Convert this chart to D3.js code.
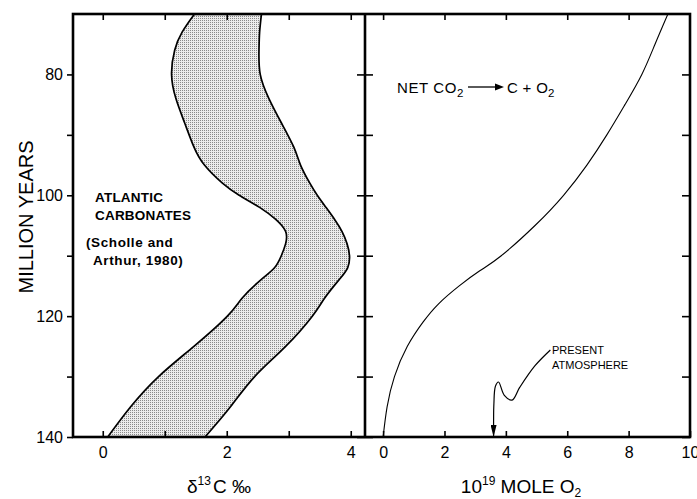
<!DOCTYPE html>
<html>
<head>
<meta charset="utf-8">
<script src="https://cdn.jsdelivr.net/npm/d3@7"></script>
<style>
  body { margin: 0; background: #fff; }
  svg { display: block; }
  text { font-family: "Liberation Sans", Arial, sans-serif; fill: #000; }
  .tick line { stroke: #000; stroke-width: 1.6; }
  .tick text { font-size: 16px; }
</style>
</head>
<body>
<svg id="chart" width="697" height="499"></svg>
<script>
//Ages (million years) for the carbonate band
var bandAge  = [70, 73, 76, 80, 84, 88, 92, 95, 98, 100, 102, 104, 106, 108, 110, 112, 114, 117, 120, 125, 130, 135, 140];
//Lower and upper edge of the delta 13C band (per mil)
var bandLow  = [1.48, 1.28, 1.16, 1.11, 1.18, 1.32, 1.47, 1.64, 1.93, 2.20, 2.53, 2.79, 2.95, 2.95, 2.88, 2.77, 2.55, 2.25, 2.01, 1.47, 0.90, 0.45, 0.08];
var bandHigh = [2.56, 2.53, 2.52, 2.54, 2.68, 2.88, 3.08, 3.19, 3.34, 3.46, 3.60, 3.74, 3.86, 3.94, 3.98, 3.95, 3.81, 3.58, 3.38, 2.95, 2.45, 2.06, 1.65];

//Net O2 produced (10^19 mole)
var o2Age   = [70, 75, 80, 85, 90, 95, 100, 105, 110, 112.5, 115, 118, 121, 125, 130, 135, 140];
var o2Value = [9.28, 8.86, 8.43, 7.88, 7.29, 6.64, 5.88, 4.95, 3.85, 3.15, 2.48, 1.80, 1.30, 0.79, 0.37, 0.13, 0.0];

//"Present atmosphere" leader, in O2 units / ages
var presentX   = [5.45, 4.95, 4.45, 4.20, 3.95, 3.76, 3.66, 3.61, 3.60, 3.60];
var presentAge = [125.6, 128.2, 131.8, 133.9, 133.1, 130.9, 131.6, 134.5, 137.5, 140];

//Tick values
var ageTicks   = [80, 90, 100, 110, 120, 130, 140];
var ageLabels  = [80, 100, 120, 140];
var deltaTicks = [0, 1, 2, 3, 4];
var deltaLabels = [0, 2, 4];
var o2Ticks    = [0, 2, 4, 6, 8, 10];

var svg = d3.select("#chart");

var pLeft = 73, pMid = 365, pRight = 690, pTop = 14, pBottom = 437;

var y = d3.scaleLinear().domain([70, 140]).range([pTop, pBottom]);
var xL = d3.scaleLinear().domain([-0.48, 4.23]).range([pLeft, pMid]);
var xR = d3.scaleLinear().domain([-0.59, 10]).range([pMid, pRight]);

var defs = svg.append("defs");

//stipple pattern for the band
var pat = defs.append("pattern")
    .attr("id", "stipple")
    .attr("width", 2).attr("height", 2)
    .attr("patternUnits", "userSpaceOnUse");
pat.append("rect").attr("width", 2).attr("height", 2).attr("fill", "#ececec");
pat.append("rect").attr("width", 1).attr("height", 1).attr("fill", "#8a8a8a");

defs.append("clipPath").attr("id", "clipL")
  .append("rect").attr("x", pLeft).attr("y", pTop).attr("width", pMid - pLeft).attr("height", pBottom - pTop);
defs.append("clipPath").attr("id", "clipR")
  .append("rect").attr("x", pMid).attr("y", pTop).attr("width", pRight - pMid).attr("height", pBottom - pTop);

defs.append("marker")
    .attr("id", "headDown")
    .attr("viewBox", "0 0 6 12")
    .attr("refX", 3).attr("refY", 12)
    .attr("markerWidth", 6).attr("markerHeight", 12)
    .attr("markerUnits", "userSpaceOnUse")
    .attr("orient", "0")
  .append("path").attr("d", "M0,0 L6,0 L3,12 Z");

//Band
var bandRows = bandAge.map(function(a, i) { return {age: a, lo: bandLow[i], hi: bandHigh[i]}; });

var band = d3.area()
    .curve(d3.curveNatural)
    .y(function(d) { return y(d.age); })
    .x0(function(d) { return xL(d.lo); })
    .x1(function(d) { return xL(d.hi); });

var edge = function(key) {
  return d3.line().curve(d3.curveNatural)
    .x(function(d) { return xL(d[key]); })
    .y(function(d) { return y(d.age); });
};

var gL = svg.append("g").attr("clip-path", "url(#clipL)");
gL.append("path").datum(bandRows).attr("d", band).attr("fill", "url(#stipple)");
gL.append("path").datum(bandRows).attr("d", edge("lo")).attr("fill", "none").attr("stroke", "#000").attr("stroke-width", 1.7);
gL.append("path").datum(bandRows).attr("d", edge("hi")).attr("fill", "none").attr("stroke", "#000").attr("stroke-width", 1.7);

//O2 curve
var o2Rows = o2Age.map(function(a, i) { return {age: a, v: o2Value[i]}; });
var gR = svg.append("g").attr("clip-path", "url(#clipR)");
gR.append("path").datum(o2Rows)
  .attr("d", d3.line().curve(d3.curveNatural)
      .x(function(d) { return xR(d.v); })
      .y(function(d) { return y(d.age); }))
  .attr("fill", "none").attr("stroke", "#000").attr("stroke-width", 1.1);

//Present atmosphere leader
var leadRows = presentX.map(function(v, i) { return {v: v, age: presentAge[i]}; });
svg.append("path").datum(leadRows)
  .attr("d", d3.line().curve(d3.curveCatmullRom)
      .x(function(d) { return xR(d.v); })
      .y(function(d) { return y(d.age); }))
  .attr("fill", "none").attr("stroke", "#000").attr("stroke-width", 1.2)
  .attr("marker-end", "url(#headDown)");

//Axes
function noDomain(g) { g.select(".domain").remove(); }

svg.append("g")
  .attr("transform", "translate(" + pLeft + ",0)")
  .call(d3.axisLeft(y).tickValues(ageTicks).tickSize(6).tickPadding(4)
      .tickFormat(function(d) { return ageLabels.indexOf(d) >= 0 ? d : ""; }))
  .call(noDomain);

svg.append("g").attr("transform", "translate(" + pMid + ",0)")
  .call(d3.axisLeft(y).tickValues(ageTicks).tickSize(8).tickFormat(""))
  .call(noDomain);
svg.append("g").attr("transform", "translate(" + pMid + ",0)")
  .call(d3.axisRight(y).tickValues(ageTicks).tickSize(8).tickFormat(""))
  .call(noDomain);
svg.append("g").attr("transform", "translate(" + pRight + ",0)")
  .call(d3.axisLeft(y).tickValues(ageTicks).tickSize(8).tickFormat(""))
  .call(noDomain);

svg.append("g").attr("transform", "translate(0," + pBottom + ")")
  .call(d3.axisBottom(xL).tickValues(deltaTicks).tickSize(-6).tickPadding(10)
      .tickFormat(function(d) { return deltaLabels.indexOf(d) >= 0 ? d : ""; }))
  .call(noDomain);
svg.append("g").attr("transform", "translate(0," + pTop + ")")
  .call(d3.axisTop(xL).tickValues(deltaTicks).tickSize(-6).tickFormat(""))
  .call(noDomain);

svg.append("g").attr("transform", "translate(0," + pBottom + ")")
  .call(d3.axisBottom(xR).tickValues(o2Ticks).tickSize(-6).tickPadding(10))
  .call(noDomain);
svg.append("g").attr("transform", "translate(0," + pTop + ")")
  .call(d3.axisTop(xR).tickValues(o2Ticks.slice(0, 5)).tickSize(-6).tickFormat(""))
  .call(noDomain);

//Frame
svg.append("rect")
  .attr("x", pLeft).attr("y", pTop).attr("width", pRight - pLeft).attr("height", pBottom - pTop)
  .attr("fill", "none").attr("stroke", "#000").attr("stroke-width", 2.6);
svg.append("line")
  .attr("x1", pMid).attr("x2", pMid).attr("y1", pTop).attr("y2", pBottom)
  .attr("stroke", "#000").attr("stroke-width", 2.6);

//Axis titles
svg.append("text")
  .attr("transform", "translate(33,217) rotate(-90)")
  .style("text-anchor", "middle").style("font-size", "20px")
  .text("MILLION YEARS");

var t1 = svg.append("text").attr("x", 219).attr("y", 493)
  .style("text-anchor", "middle").style("font-size", "19px");
t1.append("tspan").text("δ");
t1.append("tspan").attr("dy", -8).style("font-size", "12px").text("13");
t1.append("tspan").attr("dy", 8).attr("dx", 2).text("C ‰");

var t2 = svg.append("text").attr("x", 521).attr("y", 493)
  .style("text-anchor", "middle").style("font-size", "19px");
t2.append("tspan").text("10");
t2.append("tspan").attr("dy", -8).style("font-size", "12px").text("19");
t2.append("tspan").attr("dy", 8).text(" MOLE  O");
t2.append("tspan").attr("dy", 4).style("font-size", "12px").text("2");

//Left panel notes
var noteL = [["ATLANTIC", 95, 202], ["CARBONATES", 95, 220], ["(Scholle and", 86, 247], ["Arthur, 1980)", 93, 265]];
svg.selectAll(".noteL").data(noteL).enter().append("text")
  .attr("class", "noteL")
  .attr("x", function(d) { return d[1]; })
  .attr("y", function(d) { return d[2]; })
  .style("font-size", "13.5px").style("font-weight", "bold")
  .style("letter-spacing", function(d, i) { return i > 1 ? "0.6px" : "0.2px"; })
  .text(function(d) { return d[0]; });

//Reaction label
var r1 = svg.append("text").attr("x", 397).attr("y", 93)
  .style("font-size", "15px").style("letter-spacing", "0.6px");
r1.append("tspan").text("NET  CO");
r1.append("tspan").attr("dy", 4).style("font-size", "11.5px").text("2");
var r2 = svg.append("text").attr("x", 507).attr("y", 93)
  .style("font-size", "15px").style("letter-spacing", "0.3px");
r2.append("tspan").text("C + O");
r2.append("tspan").attr("dy", 4).style("font-size", "11.5px").text("2");
svg.append("line").attr("x1", 468).attr("x2", 496).attr("y1", 87).attr("y2", 87)
  .attr("stroke", "#000").attr("stroke-width", 1.3);
svg.append("path").attr("d", "M495,83.5 L504,87 L495,90.5 Z").attr("fill", "#000");

//Present atmosphere label
svg.selectAll(".noteR").data([["PRESENT", 354], ["ATMOSPHERE", 369]]).enter().append("text")
  .attr("class", "noteR")
  .attr("x", 552).attr("y", function(d) { return d[1]; })
  .style("font-size", "11px")
  .text(function(d) { return d[0]; });
</script>
</body>
</html>
